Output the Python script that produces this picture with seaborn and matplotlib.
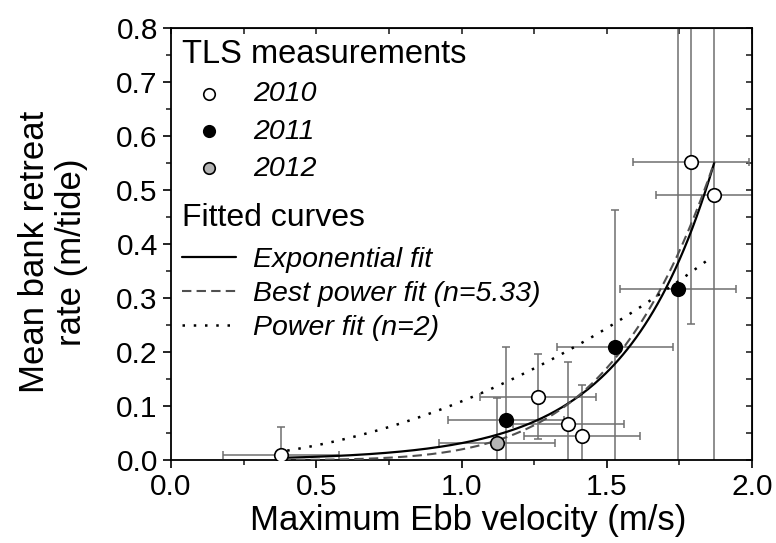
import numpy as np
import pandas as pd
import seaborn as sns
import matplotlib
matplotlib.use("Agg")
import matplotlib.pyplot as plt
from matplotlib.ticker import MultipleLocator, FormatStrFormatter
from matplotlib import font_manager

# ---------------- data ----------------
x2010 = [0.379, 1.262, 1.368, 1.416, 1.789, 1.869]
y2010 = [0.010, 0.117, 0.066, 0.045, 0.552, 0.491]
xe2010 = [0.20, 0.20, 0.19, 0.20, 0.20, 0.20]
ye2010 = [0.051, 0.079, 0.115, 0.093, 0.30, 0.55]

x2011 = [1.152, 1.528, 1.746]
y2011 = [0.075, 0.209, 0.316]
xe2011 = [0.20, 0.20, 0.20]
ye2011 = [0.135, 0.254, 0.55]

x2012 = [1.121]
y2012 = [0.032]
xe2012 = [0.20]
ye2012 = [0.083]

# fitted-curve parameters
exp_a, exp_b = 0.00115, 3.3          # y = a*exp(b*v)
pow_c, pow_n = 0.0196, 5.33          # best power fit
pow2_c, pow2_n = 0.1085, 2.0         # power fit n=2
fit_range = (0.38, 1.87)
fit2_range = (0.40, 1.845)

sns.set_style("ticks")
names = {f.name for f in font_manager.fontManager.ttflist}
fam = "Liberation Sans" if "Liberation Sans" in names else "DejaVu Sans"
plt.rcParams["font.family"] = [fam, "DejaVu Sans"]
plt.rcParams["text.color"] = "black"
plt.rcParams["axes.labelcolor"] = "black"

fig, ax = plt.subplots(figsize=(7.76, 5.43), dpi=100)
fig.subplots_adjust(left=171 / 776, right=752 / 776, bottom=83 / 543, top=515 / 543)

ecol = "#6f6f6f"
for xs, ys, xe, ye in [(x2010, y2010, xe2010, ye2010),
                       (x2011, y2011, xe2011, ye2011),
                       (x2012, y2012, xe2012, ye2012)]:
    ax.errorbar(xs, ys, xerr=xe, yerr=ye, fmt="none", ecolor=ecol,
                elinewidth=1.1, capsize=3, capthick=1.1, zorder=2)

# curves
v1 = np.linspace(*fit_range, 200)
v2 = np.linspace(*fit2_range, 200)
curves = pd.DataFrame({"v": v1, "exp": exp_a * np.exp(exp_b * v1),
                       "pow": pow_c * v1 ** pow_n})
curves2 = pd.DataFrame({"v": v2, "pow2": pow2_c * v2 ** pow2_n})

sns.lineplot(data=curves, x="v", y="exp", ax=ax, color="black", lw=1.6,
             label="Exponential fit", zorder=3)
sns.lineplot(data=curves, x="v", y="pow", ax=ax, color="#505050", lw=1.5,
             label="Best power fit (n=5.33)", zorder=3)
ax.lines[-1].set_dashes((4.5, 2.5))
sns.lineplot(data=curves2, x="v", y="pow2", ax=ax, color="black", lw=1.8,
             label="Power fit (n=2)", zorder=3)
ax.lines[-1].set_dashes((1, 3.5))

# points
sns.scatterplot(x=x2010, y=y2010, ax=ax, s=95, color="white",
                edgecolor="black", linewidth=1.2, label="2010", zorder=4)
sns.scatterplot(x=x2011, y=y2011, ax=ax, s=95, color="black",
                edgecolor="black", linewidth=1.2, label="2011", zorder=4)
sns.scatterplot(x=x2012, y=y2012, ax=ax, s=95, color="#b4b4b4",
                edgecolor="black", linewidth=1.2, label="2012", zorder=4)

ax.set_xlim(0, 2.0)
ax.set_ylim(0, 0.8)
ax.xaxis.set_major_locator(MultipleLocator(0.5))
ax.xaxis.set_minor_locator(MultipleLocator(0.25))
ax.yaxis.set_major_locator(MultipleLocator(0.1))
ax.yaxis.set_minor_locator(MultipleLocator(0.05))
ax.xaxis.set_major_formatter(FormatStrFormatter("%.1f"))
ax.yaxis.set_major_formatter(FormatStrFormatter("%.1f"))
ax.tick_params(which="major", direction="out", length=6, width=1.2,
               labelsize=21.5, pad=3.5, colors="black")
ax.tick_params(which="minor", direction="out", length=3.5, width=1.2)
for sp in ax.spines.values():
    sp.set_linewidth(1.3)
    sp.set_color("black")

top = ax.secondary_xaxis("top")
top.xaxis.set_major_locator(MultipleLocator(0.25))
top.tick_params(direction="in", length=4, width=1.2, labeltop=False)
right = ax.secondary_yaxis("right")
right.yaxis.set_major_locator(MultipleLocator(0.05))
right.tick_params(direction="in", length=4, width=1.2, labelright=False)

ax.set_xlabel("Maximum Ebb velocity (m/s)", fontsize=25, labelpad=2,
              color="black")
ax.xaxis.label.set_x(0.511)
ax.set_ylabel("Mean bank retreat\nrate (m/tide)", fontsize=25,
              linespacing=1.15, color="black")
ax.yaxis.set_label_coords(-0.143, 0.481)

handles, labels = ax.get_legend_handles_labels()
hd = dict(zip(labels, handles))
if ax.get_legend():
    ax.get_legend().remove()

leg1 = ax.legend([hd["2010"], hd["2011"], hd["2012"]], ["2010", "2011", "2012"],
                 title="TLS measurements", title_fontsize=23.5,
                 prop={"size": 20.5, "style": "italic"}, frameon=False,
                 loc="upper left", bbox_to_anchor=(0.019, 0.975),
                 borderaxespad=0, borderpad=0, handlelength=1.9,
                 handletextpad=0.6, labelspacing=0.40, markerscale=0.85,
                 alignment="left", labelcolor="black")
ax.add_artist(leg1)
leg2 = ax.legend([hd["Exponential fit"], hd["Best power fit (n=5.33)"],
                  hd["Power fit (n=2)"]],
                 ["Exponential fit", "Best power fit (n=5.33)", "Power fit (n=2)"],
                 title="Fitted curves", title_fontsize=23,
                 prop={"size": 20.5, "style": "italic"}, frameon=False,
                 loc="upper left", bbox_to_anchor=(0.019, 0.596),
                 borderaxespad=0, borderpad=0, handlelength=1.9,
                 handletextpad=0.6, labelspacing=0.28, alignment="left",
                 labelcolor="black")
leg2._legend_box.sep = leg2._legend_box.sep + 4.5
for lg in (leg1, leg2):
    lg.get_title().set_color("black")

fig.savefig("out.png", dpi=100)
